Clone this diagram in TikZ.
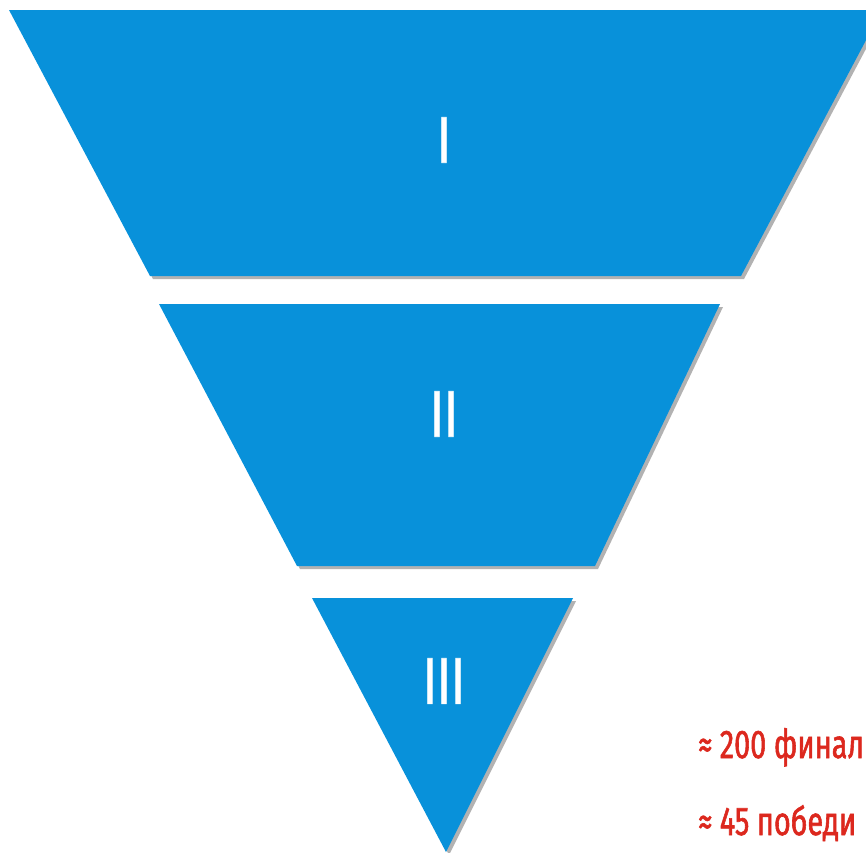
\documentclass[tikz,border=0pt]{standalone}
\usepackage{fontspec}
\setmainfont{Fira Sans}[FakeStretch=0.72]
\newfontfamily\labelfont{Fira Sans}[FakeStretch=0.72, FakeBold=1.4]
\usepackage{tikz}
\usetikzlibrary{shadows,positioning}
\definecolor{funnelblue}{RGB}{8,145,218}
\definecolor{notered}{RGB}{220,40,30}
\tikzset{
  stage/.style={fill=funnelblue, drop shadow={shadow xshift=3pt, shadow yshift=-3pt, opacity=0.3, fill=black}},
  numeral/.style={text=white, font=\labelfont\fontsize{66}{66}\selectfont, inner sep=0pt},
  note/.style={text=notered, font=\labelfont\fontsize{40}{40}\selectfont, inner sep=0pt, anchor=base west}
}
\begin{document}
\begin{tikzpicture}[x=1pt,y=-1pt]
  \useasboundingbox (0,0) rectangle (866,852);

  % funnel stages
  \path[stage] (9,10) -- (882,10) -- (741,276) -- (150,276) -- cycle;
  \path[stage] (159,304) -- (720,304) -- (595,566) -- (297,566) -- cycle;
  \path[stage] (312,598) -- (573,598) -- (446,852) -- cycle;

  % stage labels
  \node[numeral] (one) at (444,140) {I};
  \node[numeral] (two) at (444,414) {II};
  \node[numeral] (three) at (444,681) {III};

  % counts
  \node[note] (finalists) at (698,758) {≈ 200 финал};
  \node[note] (winners) at (698,835) {≈ 45 победи};
\end{tikzpicture}
\end{document}
